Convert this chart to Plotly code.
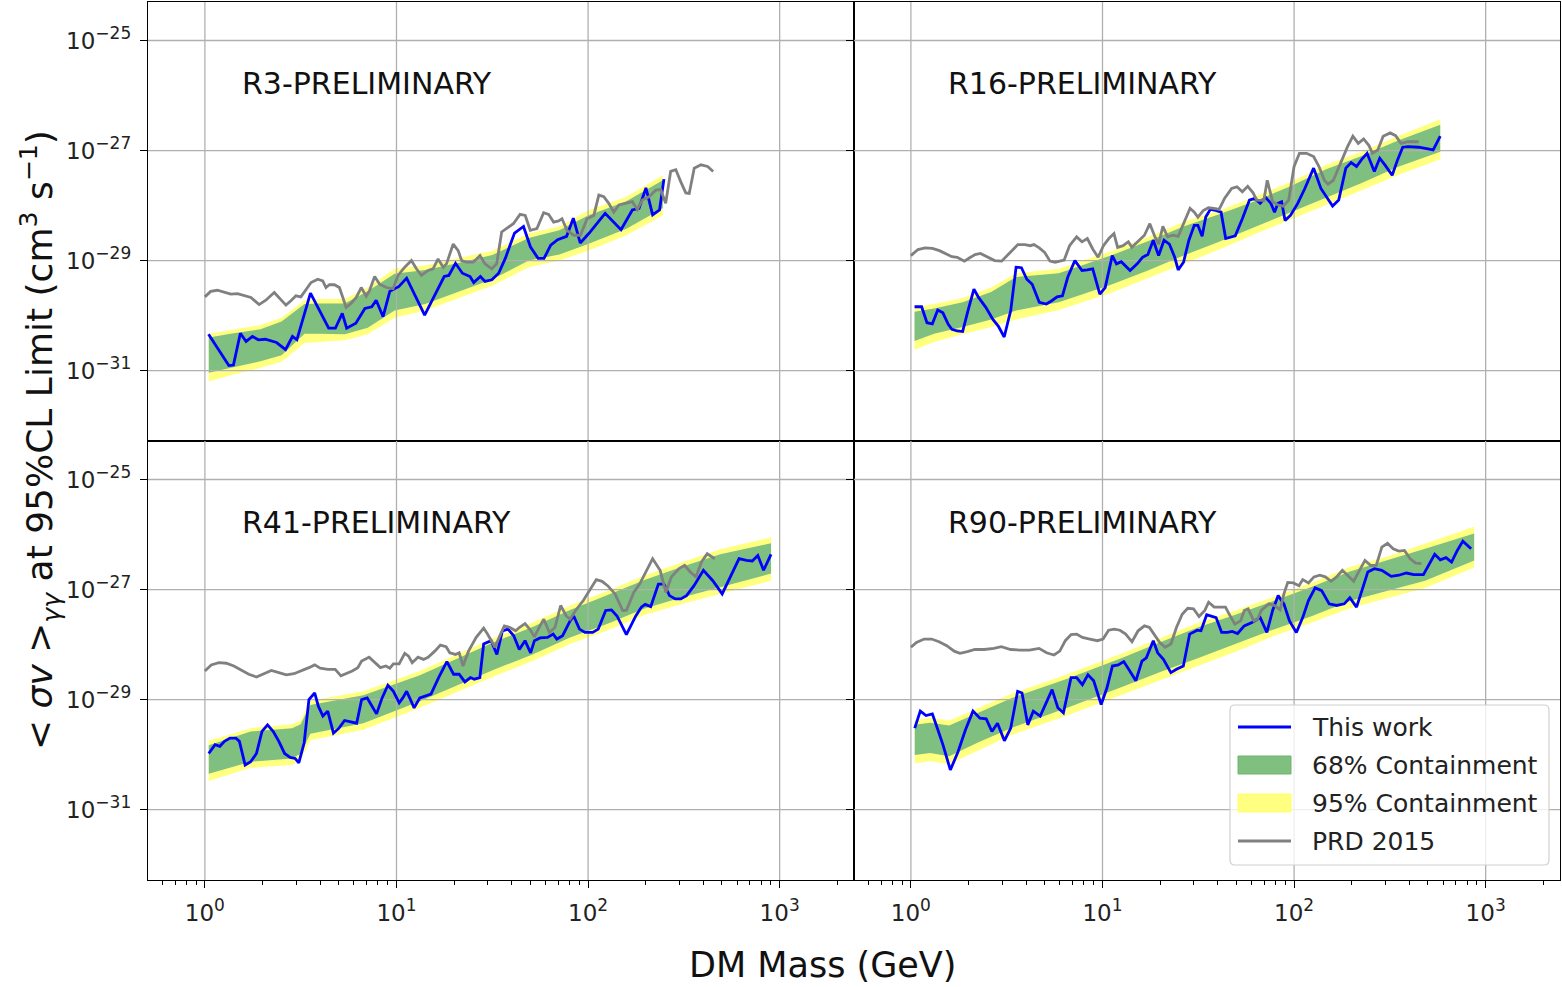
import numpy as np
import plotly.graph_objects as go
from plotly.subplots import make_subplots

# ---------------- data (log10 of mass in GeV, log10 of <sigma v> in cm^3 s^-1) ----------------
# R3
R3_BAND_LOGM = [0.02, 0.15, 0.29, 0.40, 0.52, 0.60, 0.73, 0.85, 0.99, 1.15, 1.34, 1.50, 1.69, 1.85, 2.00, 2.20, 2.39]
R3_U95 = [-30.33, -30.25, -30.17, -30.04, -29.72, -29.70, -29.70, -29.49, -29.15, -29.09, -28.94, -28.82, -28.51, -28.38, -28.09, -27.84, -27.45]
R3_U68 = [-30.40, -30.32, -30.25, -30.11, -29.79, -29.78, -29.78, -29.56, -29.24, -29.17, -29.03, -28.90, -28.59, -28.45, -28.18, -27.92, -27.54]
R3_L68 = [-31.04, -30.94, -30.83, -30.72, -30.33, -30.33, -30.34, -30.22, -29.91, -29.79, -29.55, -29.34, -29.00, -28.89, -28.70, -28.42, -28.05]
R3_L95 = [-31.20, -31.07, -30.95, -30.84, -30.50, -30.48, -30.45, -30.34, -30.04, -29.91, -29.67, -29.46, -29.12, -29.00, -28.82, -28.54, -28.18]
R3_WORK_LOGM = [0.019, 0.125, 0.149, 0.185, 0.215, 0.248, 0.279, 0.315, 0.374, 0.421, 0.457, 0.480, 0.551, 0.599, 0.646, 0.681, 0.717, 0.740, 0.788, 0.835, 0.871, 0.894, 0.930, 0.965, 1.013, 1.053, 1.107, 1.147, 1.249, 1.273, 1.308, 1.344, 1.384, 1.403, 1.438, 1.462, 1.498, 1.533, 1.568, 1.616, 1.663, 1.699, 1.739, 1.770, 1.805, 1.841, 1.888, 1.923, 1.959, 2.006, 2.089, 2.172, 2.231, 2.266, 2.302, 2.337, 2.373, 2.396]
R3_WORK_LOGSV = [-30.34, -30.91, -30.90, -30.32, -30.47, -30.38, -30.44, -30.43, -30.49, -30.62, -30.38, -30.44, -29.59, -29.90, -30.23, -30.23, -29.96, -30.23, -30.14, -29.87, -29.84, -29.72, -30.02, -29.56, -29.47, -29.32, -29.72, -29.99, -29.29, -29.27, -29.05, -29.23, -29.29, -29.40, -29.29, -29.38, -29.35, -29.23, -28.96, -28.50, -28.38, -28.75, -28.96, -28.96, -28.72, -28.62, -28.56, -28.23, -28.68, -28.50, -28.14, -28.44, -28.08, -28.05, -27.68, -28.17, -28.08, -27.52]
R3_PRD_LOGM = [0.000, 0.030, 0.065, 0.100, 0.135, 0.170, 0.205, 0.240, 0.283, 0.318, 0.362, 0.388, 0.423, 0.449, 0.475, 0.501, 0.528, 0.554, 0.589, 0.615, 0.632, 0.650, 0.676, 0.702, 0.720, 0.737, 0.763, 0.790, 0.816, 0.842, 0.859, 0.886, 0.912, 0.947, 0.982, 1.008, 1.043, 1.078, 1.104, 1.130, 1.165, 1.191, 1.217, 1.244, 1.261, 1.296, 1.322, 1.340, 1.366, 1.401, 1.436, 1.462, 1.497, 1.523, 1.549, 1.584, 1.610, 1.645, 1.672, 1.698, 1.733, 1.768, 1.794, 1.820, 1.846, 1.864, 1.890, 1.925, 1.960, 1.995, 2.030, 2.056, 2.082, 2.108, 2.134, 2.161, 2.196, 2.231, 2.257, 2.283, 2.318, 2.353, 2.379, 2.405, 2.431, 2.458, 2.484, 2.510, 2.528, 2.554, 2.589, 2.624, 2.653]
R3_PRD_LOGSV = [-29.66, -29.56, -29.54, -29.58, -29.61, -29.60, -29.64, -29.67, -29.80, -29.72, -29.58, -29.67, -29.81, -29.73, -29.64, -29.66, -29.52, -29.40, -29.34, -29.37, -29.49, -29.44, -29.44, -29.49, -29.67, -29.85, -29.78, -29.67, -29.49, -29.65, -29.55, -29.29, -29.43, -29.49, -29.51, -29.27, -29.12, -29.00, -29.15, -29.27, -29.18, -29.15, -28.97, -29.12, -29.06, -28.70, -28.82, -29.00, -29.03, -29.03, -28.91, -29.06, -29.15, -29.06, -28.48, -28.39, -28.33, -28.16, -28.18, -28.45, -28.42, -28.13, -28.16, -28.30, -28.28, -28.24, -28.45, -28.54, -28.54, -28.24, -28.18, -27.81, -27.84, -27.96, -28.12, -27.99, -27.96, -27.93, -28.07, -27.90, -27.84, -27.72, -27.71, -27.96, -27.38, -27.35, -27.57, -27.77, -27.78, -27.32, -27.26, -27.29, -27.38]

# R16
R16_BAND_LOGM = [0.019, 0.121, 0.270, 0.419, 0.549, 0.772, 1.051, 1.237, 1.423, 1.609, 1.795, 1.981, 2.167, 2.353, 2.540, 2.763]
R16_U95 = [-29.85, -29.79, -29.68, -29.49, -29.23, -29.15, -28.82, -28.57, -28.30, -28.09, -27.84, -27.57, -27.26, -27.02, -26.74, -26.43]
R16_U68 = [-29.93, -29.87, -29.76, -29.57, -29.30, -29.23, -28.90, -28.65, -28.38, -28.16, -27.92, -27.65, -27.34, -27.10, -26.82, -26.53]
R16_L68 = [-30.46, -30.33, -30.21, -30.07, -29.91, -29.76, -29.43, -29.18, -28.91, -28.66, -28.39, -28.12, -27.85, -27.59, -27.30, -27.02]
R16_L95 = [-30.62, -30.48, -30.34, -30.21, -30.07, -29.90, -29.58, -29.32, -29.05, -28.80, -28.52, -28.26, -27.99, -27.72, -27.45, -27.16]
R16_WORK_LOGM = [0.019, 0.056, 0.084, 0.112, 0.140, 0.167, 0.195, 0.214, 0.242, 0.270, 0.298, 0.329, 0.353, 0.391, 0.428, 0.456, 0.487, 0.521, 0.549, 0.577, 0.605, 0.633, 0.670, 0.707, 0.735, 0.763, 0.791, 0.819, 0.856, 0.893, 0.921, 0.949, 0.986, 1.014, 1.051, 1.073, 1.098, 1.116, 1.144, 1.181, 1.209, 1.237, 1.265, 1.293, 1.321, 1.349, 1.377, 1.395, 1.423, 1.451, 1.479, 1.498, 1.520, 1.539, 1.563, 1.591, 1.619, 1.643, 1.669, 1.693, 1.730, 1.767, 1.795, 1.823, 1.851, 1.879, 1.898, 1.916, 1.935, 1.953, 1.981, 2.019, 2.056, 2.102, 2.140, 2.167, 2.201, 2.233, 2.270, 2.298, 2.326, 2.353, 2.381, 2.419, 2.447, 2.474, 2.512, 2.540, 2.567, 2.595, 2.651, 2.726, 2.763]
R16_WORK_LOGSV = [-29.84, -29.84, -30.13, -30.15, -29.90, -29.95, -30.16, -30.25, -30.28, -30.29, -29.91, -29.52, -29.67, -29.85, -30.07, -30.19, -30.39, -29.91, -29.12, -29.13, -29.34, -29.43, -29.76, -29.79, -29.73, -29.66, -29.64, -29.30, -29.00, -29.18, -29.17, -29.15, -29.61, -29.49, -28.91, -29.06, -29.02, -29.09, -29.18, -29.06, -28.94, -28.89, -28.63, -28.91, -28.63, -28.70, -28.94, -29.17, -29.03, -28.63, -28.36, -28.36, -28.56, -28.21, -28.07, -28.09, -28.12, -28.60, -28.57, -28.55, -28.24, -27.90, -27.87, -27.96, -27.85, -27.96, -28.12, -27.96, -27.93, -28.27, -28.18, -27.96, -27.69, -27.32, -27.69, -27.84, -28.01, -27.90, -27.32, -27.22, -27.29, -27.16, -27.05, -27.38, -27.14, -27.26, -27.45, -27.17, -26.94, -26.93, -26.94, -26.99, -26.74]
R16_PRD_LOGM = [0.000, 0.037, 0.074, 0.112, 0.149, 0.186, 0.214, 0.242, 0.279, 0.307, 0.335, 0.363, 0.400, 0.437, 0.474, 0.502, 0.530, 0.558, 0.595, 0.623, 0.642, 0.670, 0.698, 0.726, 0.753, 0.781, 0.800, 0.828, 0.865, 0.893, 0.921, 0.949, 0.977, 1.005, 1.033, 1.060, 1.079, 1.107, 1.135, 1.153, 1.181, 1.219, 1.247, 1.274, 1.293, 1.315, 1.340, 1.367, 1.395, 1.423, 1.457, 1.479, 1.498, 1.526, 1.553, 1.581, 1.609, 1.637, 1.674, 1.702, 1.730, 1.758, 1.786, 1.805, 1.823, 1.842, 1.860, 1.888, 1.916, 1.944, 1.972, 2.000, 2.028, 2.065, 2.102, 2.130, 2.158, 2.177, 2.205, 2.242, 2.279, 2.307, 2.335, 2.363, 2.391, 2.409, 2.437, 2.465, 2.502, 2.530, 2.558, 2.595, 2.651]
R16_PRD_LOGSV = [-28.91, -28.80, -28.77, -28.78, -28.82, -28.88, -28.93, -28.94, -29.01, -28.95, -28.89, -28.87, -28.93, -29.00, -29.01, -28.91, -28.80, -28.71, -28.71, -28.73, -28.71, -28.77, -28.85, -29.01, -29.03, -29.01, -28.99, -28.73, -28.57, -28.66, -28.60, -28.79, -28.94, -28.73, -28.60, -28.51, -28.76, -28.73, -28.66, -28.76, -28.66, -28.54, -28.33, -28.57, -28.70, -28.38, -28.57, -28.54, -28.56, -28.33, -28.05, -28.12, -28.21, -28.09, -28.04, -28.05, -28.07, -27.87, -27.69, -27.66, -27.75, -27.65, -27.77, -27.90, -27.90, -27.91, -27.54, -27.93, -27.99, -28.01, -27.90, -27.29, -27.05, -27.05, -27.11, -27.29, -27.54, -27.61, -27.54, -27.23, -26.93, -26.74, -26.87, -26.79, -26.91, -27.05, -26.99, -26.74, -26.68, -26.73, -26.87, -26.84, -26.84]

# R41
R41_BAND_LOGM = [0.02, 0.239, 0.455, 0.50, 0.55, 0.827, 1.122, 1.318, 1.514, 1.710, 1.906, 2.102, 2.298, 2.494, 2.690, 2.955]
R41_U95 = [-29.75, -29.52, -29.45, -29.38, -29.02, -28.85, -28.48, -28.18, -27.87, -27.60, -27.29, -27.02, -26.74, -26.50, -26.27, -26.05]
R41_U68 = [-29.83, -29.58, -29.52, -29.45, -29.10, -28.92, -28.56, -28.26, -27.95, -27.68, -27.37, -27.10, -26.82, -26.58, -26.36, -26.16]
R41_L68 = [-30.35, -30.13, -30.07, -29.98, -29.62, -29.43, -29.03, -28.74, -28.45, -28.18, -27.87, -27.62, -27.34, -27.14, -26.96, -26.71]
R41_L95 = [-30.48, -30.24, -30.19, -30.10, -29.74, -29.55, -29.15, -28.86, -28.57, -28.30, -27.99, -27.74, -27.46, -27.26, -27.08, -26.84]
R41_WORK_LOGM = [0.020, 0.053, 0.078, 0.102, 0.131, 0.161, 0.180, 0.210, 0.239, 0.269, 0.298, 0.327, 0.357, 0.386, 0.416, 0.445, 0.471, 0.490, 0.518, 0.543, 0.573, 0.592, 0.616, 0.641, 0.671, 0.700, 0.729, 0.759, 0.792, 0.818, 0.847, 0.867, 0.896, 0.925, 0.955, 0.984, 1.014, 1.033, 1.053, 1.073, 1.092, 1.122, 1.151, 1.180, 1.220, 1.263, 1.298, 1.327, 1.357, 1.386, 1.406, 1.435, 1.455, 1.494, 1.524, 1.553, 1.582, 1.612, 1.641, 1.671, 1.700, 1.720, 1.749, 1.788, 1.818, 1.837, 1.867, 1.906, 1.925, 1.955, 1.984, 2.024, 2.053, 2.092, 2.122, 2.151, 2.200, 2.249, 2.278, 2.298, 2.327, 2.367, 2.396, 2.425, 2.455, 2.484, 2.514, 2.553, 2.602, 2.651, 2.700, 2.739, 2.788, 2.827, 2.857, 2.886, 2.916, 2.955]
R41_WORK_LOGSV = [-29.98, -29.82, -29.85, -29.76, -29.70, -29.70, -29.76, -30.19, -30.13, -29.98, -29.58, -29.46, -29.58, -29.76, -29.98, -30.05, -30.07, -30.15, -29.79, -29.00, -28.88, -29.12, -29.30, -29.21, -29.61, -29.52, -29.38, -29.40, -29.43, -29.00, -28.97, -29.09, -29.26, -28.97, -28.74, -28.85, -29.06, -28.97, -28.85, -29.00, -29.15, -28.97, -28.94, -28.90, -28.60, -28.31, -28.54, -28.54, -28.68, -28.60, -28.63, -28.60, -27.99, -27.93, -28.18, -27.75, -27.72, -27.84, -28.09, -27.93, -28.15, -27.93, -27.88, -27.87, -27.81, -27.90, -27.84, -27.57, -27.48, -27.72, -27.78, -27.78, -27.72, -27.38, -27.37, -27.48, -27.82, -27.48, -27.32, -27.27, -27.31, -26.90, -26.90, -27.11, -27.17, -27.17, -27.11, -26.93, -26.65, -26.84, -27.08, -26.80, -26.44, -26.47, -26.48, -26.38, -26.65, -26.36]
R41_PRD_LOGM = [0.000, 0.033, 0.073, 0.112, 0.151, 0.190, 0.229, 0.269, 0.308, 0.347, 0.386, 0.425, 0.465, 0.504, 0.543, 0.573, 0.602, 0.641, 0.680, 0.710, 0.739, 0.769, 0.798, 0.818, 0.857, 0.886, 0.916, 0.945, 0.965, 0.984, 1.014, 1.043, 1.063, 1.082, 1.112, 1.141, 1.165, 1.200, 1.229, 1.259, 1.278, 1.308, 1.327, 1.347, 1.376, 1.416, 1.455, 1.475, 1.514, 1.543, 1.563, 1.592, 1.622, 1.641, 1.671, 1.700, 1.720, 1.749, 1.769, 1.798, 1.827, 1.857, 1.886, 1.906, 1.935, 1.975, 2.014, 2.043, 2.073, 2.102, 2.141, 2.180, 2.200, 2.239, 2.269, 2.308, 2.337, 2.376, 2.406, 2.435, 2.475, 2.504, 2.533, 2.563, 2.592, 2.622, 2.661]
R41_PRD_LOGSV = [-28.48, -28.37, -28.33, -28.34, -28.39, -28.47, -28.54, -28.59, -28.53, -28.47, -28.51, -28.55, -28.53, -28.48, -28.42, -28.37, -28.43, -28.45, -28.45, -28.57, -28.53, -28.48, -28.42, -28.30, -28.23, -28.33, -28.42, -28.39, -28.43, -28.35, -28.35, -28.16, -28.21, -28.33, -28.23, -28.27, -28.23, -28.12, -28.01, -28.04, -28.15, -28.18, -28.15, -28.39, -28.12, -27.87, -27.70, -27.81, -28.05, -27.81, -27.66, -27.69, -27.75, -27.69, -27.62, -27.74, -27.86, -27.66, -27.54, -27.78, -27.69, -27.29, -27.48, -27.54, -27.38, -27.20, -26.99, -26.82, -26.85, -26.93, -27.08, -27.38, -27.38, -27.05, -26.90, -26.65, -26.44, -26.65, -27.05, -26.77, -26.62, -26.56, -26.68, -26.77, -26.50, -26.35, -26.44]

# R90
R90_BAND_LOGM = [0.02, 0.10, 0.20, 0.35, 0.521, 0.816, 1.111, 1.308, 1.504, 1.701, 1.898, 2.094, 2.291, 2.488, 2.684, 2.940]
R90_U95 = [-29.37, -29.33, -29.38, -29.15, -28.90, -28.54, -28.15, -27.87, -27.60, -27.37, -27.13, -26.87, -26.59, -26.40, -26.16, -25.86]
R90_U68 = [-29.46, -29.42, -29.47, -29.24, -28.98, -28.62, -28.23, -27.95, -27.68, -27.45, -27.20, -26.95, -26.67, -26.47, -26.26, -25.98]
R90_L68 = [-30.01, -29.97, -30.03, -29.78, -29.52, -29.15, -28.76, -28.49, -28.24, -27.98, -27.72, -27.48, -27.21, -27.02, -26.84, -26.47]
R90_L95 = [-30.16, -30.12, -30.17, -29.92, -29.65, -29.29, -28.90, -28.63, -28.37, -28.12, -27.84, -27.60, -27.34, -27.15, -26.97, -26.60]
R90_WORK_LOGM = [0.020, 0.049, 0.079, 0.112, 0.138, 0.167, 0.206, 0.246, 0.285, 0.324, 0.360, 0.393, 0.423, 0.452, 0.488, 0.521, 0.557, 0.580, 0.610, 0.639, 0.675, 0.708, 0.737, 0.767, 0.796, 0.836, 0.865, 0.895, 0.924, 0.954, 0.993, 1.023, 1.052, 1.082, 1.111, 1.141, 1.174, 1.206, 1.229, 1.265, 1.288, 1.318, 1.357, 1.386, 1.422, 1.455, 1.495, 1.514, 1.544, 1.563, 1.593, 1.622, 1.652, 1.677, 1.705, 1.740, 1.780, 1.823, 1.858, 1.888, 1.917, 1.947, 1.976, 2.012, 2.045, 2.075, 2.110, 2.144, 2.183, 2.222, 2.262, 2.291, 2.326, 2.354, 2.385, 2.419, 2.458, 2.507, 2.547, 2.586, 2.625, 2.675, 2.704, 2.734, 2.763, 2.793, 2.822, 2.852, 2.881, 2.924]
R90_WORK_LOGSV = [-29.52, -29.21, -29.29, -29.26, -29.52, -29.82, -30.28, -29.95, -29.55, -29.21, -29.34, -29.35, -29.58, -29.43, -29.75, -29.52, -28.85, -28.88, -29.46, -29.21, -29.30, -29.03, -28.82, -29.15, -29.24, -28.60, -28.60, -28.73, -28.55, -28.66, -29.09, -28.79, -28.39, -28.37, -28.31, -28.47, -28.66, -28.30, -28.24, -27.93, -28.15, -28.27, -28.51, -28.45, -28.39, -27.81, -27.74, -27.75, -27.46, -27.48, -27.51, -27.78, -27.78, -27.76, -27.80, -27.66, -27.60, -27.51, -27.78, -27.38, -27.11, -27.26, -27.57, -27.78, -27.51, -27.20, -26.97, -27.02, -27.26, -27.29, -27.26, -27.15, -27.32, -27.02, -26.68, -26.62, -26.65, -26.76, -26.74, -26.70, -26.73, -26.73, -26.56, -26.36, -26.46, -26.42, -26.50, -26.29, -26.12, -26.26]
R90_PRD_LOGM = [0.000, 0.029, 0.069, 0.108, 0.147, 0.187, 0.226, 0.256, 0.295, 0.334, 0.383, 0.433, 0.472, 0.521, 0.570, 0.619, 0.669, 0.708, 0.747, 0.777, 0.806, 0.836, 0.865, 0.895, 0.934, 0.973, 1.003, 1.032, 1.062, 1.091, 1.121, 1.154, 1.186, 1.219, 1.245, 1.268, 1.298, 1.327, 1.357, 1.386, 1.416, 1.445, 1.475, 1.504, 1.534, 1.554, 1.583, 1.613, 1.642, 1.662, 1.691, 1.721, 1.740, 1.760, 1.790, 1.809, 1.829, 1.868, 1.898, 1.927, 1.947, 1.967, 1.996, 2.026, 2.045, 2.075, 2.104, 2.134, 2.163, 2.193, 2.222, 2.252, 2.281, 2.311, 2.340, 2.370, 2.399, 2.429, 2.458, 2.488, 2.517, 2.547, 2.576, 2.606, 2.635, 2.665]
R90_PRD_LOGSV = [-28.05, -27.96, -27.90, -27.90, -27.95, -28.02, -28.12, -28.16, -28.13, -28.09, -28.09, -28.07, -28.04, -28.09, -28.10, -28.10, -28.07, -28.15, -28.19, -28.12, -27.93, -27.82, -27.81, -27.87, -27.90, -27.93, -27.90, -27.74, -27.72, -27.74, -27.81, -27.95, -27.75, -27.66, -27.69, -27.80, -27.96, -28.05, -27.99, -27.69, -27.45, -27.34, -27.35, -27.49, -27.38, -27.23, -27.32, -27.32, -27.32, -27.45, -27.63, -27.57, -27.38, -27.35, -27.57, -27.54, -27.38, -27.26, -27.29, -27.37, -27.08, -26.87, -26.88, -26.93, -26.82, -26.88, -26.77, -26.74, -26.77, -26.85, -26.77, -26.65, -26.74, -26.85, -26.66, -26.47, -26.56, -26.56, -26.23, -26.16, -26.26, -26.30, -26.29, -26.44, -26.52, -26.53]

PANEL_LABELS = ["R3-PRELIMINARY", "R16-PRELIMINARY", "R41-PRELIMINARY", "R90-PRELIMINARY"]
SERIES_NAMES = ["This work", "68% Containment", "95% Containment", "PRD 2015"]
X_TICKS = [1, 10, 100, 1000]
X_TICKTEXT = ["10<sup><span style='font-size:17px'>0</span></sup>", "10<sup><span style='font-size:17px'>1</span></sup>",
              "10<sup><span style='font-size:17px'>2</span></sup>", "10<sup><span style='font-size:17px'>3</span></sup>"]
Y_TICKS = [1e-25, 1e-27, 1e-29, 1e-31]
Y_TICKTEXT = ["10<sup><span style='font-size:17px'>\u221225</span></sup>", "10<sup><span style='font-size:17px'>\u221227</span></sup>",
              "10<sup><span style='font-size:17px'>\u221229</span></sup>", "10<sup><span style='font-size:17px'>\u221231</span></sup>"]

# ---------------- style ----------------
FONT = "DejaVu Sans"
BLUE = "#0000ff"
GRAY = "#808080"
GREEN = "rgb(127,191,127)"
YELLOW = "rgb(255,255,128)"
GRID = "#b0b0b0"
XR = [-0.297, 3.388]
YR = [-32.28, -24.30]
LW = 2.8

panels = [
    (1, 1, R3_BAND_LOGM, R3_U95, R3_U68, R3_L68, R3_L95, R3_WORK_LOGM, R3_WORK_LOGSV, R3_PRD_LOGM, R3_PRD_LOGSV),
    (1, 2, R16_BAND_LOGM, R16_U95, R16_U68, R16_L68, R16_L95, R16_WORK_LOGM, R16_WORK_LOGSV, R16_PRD_LOGM, R16_PRD_LOGSV),
    (2, 1, R41_BAND_LOGM, R41_U95, R41_U68, R41_L68, R41_L95, R41_WORK_LOGM, R41_WORK_LOGSV, R41_PRD_LOGM, R41_PRD_LOGSV),
    (2, 2, R90_BAND_LOGM, R90_U95, R90_U68, R90_L68, R90_L95, R90_WORK_LOGM, R90_WORK_LOGSV, R90_PRD_LOGM, R90_PRD_LOGSV),
]

fig = make_subplots(rows=2, cols=2, horizontal_spacing=0, vertical_spacing=0)

def p10(a):
    return np.power(10.0, np.asarray(a, dtype=float))

# gridlines drawn as traces so they sit above the bands but below the lines (matplotlib look)
grid_x, grid_y = [], []
for xv in X_TICKS:
    grid_x += [xv, xv, None]
    grid_y += [10 ** YR[0], 10 ** YR[1], None]
for yv in Y_TICKS:
    grid_x += [10 ** XR[0], 10 ** XR[1], None]
    grid_y += [yv, yv, None]

for i, (r, c, bm, u95, u68, l68, l95, wm, wv, pm, pv) in enumerate(panels):
    bx = p10(bm)
    fig.add_trace(go.Scatter(x=bx, y=p10(u95), mode="lines", line=dict(width=0, color=YELLOW),
                             showlegend=False, hoverinfo="skip"), row=r, col=c)
    fig.add_trace(go.Scatter(x=bx, y=p10(l95), mode="lines", line=dict(width=0, color=YELLOW),
                             fill="tonexty", fillcolor=YELLOW, name=SERIES_NAMES[2], showlegend=False), row=r, col=c)
    fig.add_trace(go.Scatter(x=bx, y=p10(u68), mode="lines", line=dict(width=0, color=GREEN),
                             showlegend=False, hoverinfo="skip"), row=r, col=c)
    fig.add_trace(go.Scatter(x=bx, y=p10(l68), mode="lines", line=dict(width=0, color=GREEN),
                             fill="tonexty", fillcolor=GREEN, name=SERIES_NAMES[1], showlegend=False), row=r, col=c)
    fig.add_trace(go.Scatter(x=grid_x, y=grid_y, mode="lines", line=dict(width=1.3, color=GRID),
                             showlegend=False, hoverinfo="skip"), row=r, col=c)
    fig.add_trace(go.Scatter(x=p10(wm), y=p10(wv), mode="lines", line=dict(width=LW, color=BLUE),
                             name=SERIES_NAMES[0], showlegend=False), row=r, col=c)
    fig.add_trace(go.Scatter(x=p10(pm), y=p10(pv), mode="lines", line=dict(width=LW, color=GRAY),
                             name=SERIES_NAMES[3], showlegend=False), row=r, col=c)

for r in (1, 2):
    for c in (1, 2):
        bottom = (r == 2)
        left = (c == 1)
        fig.update_xaxes(type="log", range=XR, showgrid=False, zeroline=False,
                         showline=True, mirror=True, linecolor="black", linewidth=1.3,
                         tickvals=X_TICKS, ticktext=X_TICKTEXT,
                         showticklabels=bottom, ticks="outside" if bottom else "",
                         ticklen=7, tickwidth=1.2, tickcolor="black", ticklabelstandoff=5,
                         tickfont=dict(family=FONT, size=23, color="#222"),
                         minor=dict(ticks="outside" if bottom else "", ticklen=4, tickwidth=1,
                                    tickcolor="black", dtick="D1", showgrid=False),
                         row=r, col=c)
        fig.update_yaxes(type="log", range=YR, showgrid=False, zeroline=False,
                         showline=True, mirror=True, linecolor="black", linewidth=1.3,
                         tickvals=Y_TICKS, ticktext=Y_TICKTEXT,
                         showticklabels=left, ticks="outside",
                         ticklen=7, tickwidth=1.2, tickcolor="black", ticklabelstandoff=4,
                         tickfont=dict(family=FONT, size=23, color="#222"),
                         row=r, col=c)

# ---- helpers converting figure pixels to paper coords (layout decoration only) ----
L, R, T, B = 148, 2, 2, 107
PW, PH = 1562 - L - R, 987 - T - B
def px(xp):
    return (xp - L) / PW
def py(yp):
    return (987 - B - yp) / PH

annotations = []
shapes = []
xrefs = {(1, 1): "x", (1, 2): "x2", (2, 1): "x3", (2, 2): "x4"}
yrefs = {(1, 1): "y", (1, 2): "y2", (2, 1): "y3", (2, 2): "y4"}
for (r, c), lab in zip([(1, 1), (1, 2), (2, 1), (2, 2)], PANEL_LABELS):
    annotations.append(dict(text=lab, xref=xrefs[(r, c)] + " domain", yref=yrefs[(r, c)] + " domain",
                            x=0.131, y=0.815, xanchor="left", yanchor="middle", showarrow=False,
                            font=dict(family=FONT, size=30, color="#111")))
annotations.append(dict(text="DM Mass (GeV)", xref="paper", yref="paper", x=px(822), y=py(965),
                        xanchor="center", yanchor="middle", showarrow=False,
                        font=dict(family=FONT, size=35, color="#111")))
annotations.append(dict(text="&lt; <i>\u03c3v</i> &gt;<sub><i>\u03b3\u03b3</i></sub> at 95%CL Limit (cm<sup>3</sup> s<sup>\u22121</sup>)",
                        xref="paper", yref="paper", x=px(40), y=py(440), textangle=-90,
                        xanchor="center", yanchor="middle", showarrow=False,
                        font=dict(family=FONT, size=36, color="#111")))

# ---- legend (drawn as a matplotlib-style box) ----
bx0, bx1, by0, by1, rad = 1230, 1549, 705, 865, 5
def P(xp, yp):
    return f"{px(xp):.5f},{py(yp):.5f}"
path = (f"M {P(bx0 + rad, by0)} L {P(bx1 - rad, by0)} Q {P(bx1, by0)} {P(bx1, by0 + rad)} "
        f"L {P(bx1, by1 - rad)} Q {P(bx1, by1)} {P(bx1 - rad, by1)} "
        f"L {P(bx0 + rad, by1)} Q {P(bx0, by1)} {P(bx0, by1 - rad)} "
        f"L {P(bx0, by0 + rad)} Q {P(bx0, by0)} {P(bx0 + rad, by0)} Z")
shapes.append(dict(type="path", xref="paper", yref="paper", path=path,
                   fillcolor="rgba(255,255,255,0.8)", line=dict(color="#d0d0d0", width=1.2)))
entry_y = [727, 765, 803, 841]
sym_x0, sym_x1 = 1238, 1291
shapes.append(dict(type="line", xref="paper", yref="paper", x0=px(sym_x0), x1=px(sym_x1),
                   y0=py(entry_y[0]), y1=py(entry_y[0]), line=dict(color=BLUE, width=LW)))
shapes.append(dict(type="rect", xref="paper", yref="paper", x0=px(sym_x0), x1=px(sym_x1),
                   y0=py(entry_y[1] - 9), y1=py(entry_y[1] + 9), fillcolor=GREEN,
                   line=dict(color="rgb(110,180,110)", width=1)))
shapes.append(dict(type="rect", xref="paper", yref="paper", x0=px(sym_x0), x1=px(sym_x1),
                   y0=py(entry_y[2] - 9), y1=py(entry_y[2] + 9), fillcolor=YELLOW,
                   line=dict(color="rgb(255,255,110)", width=1)))
shapes.append(dict(type="line", xref="paper", yref="paper", x0=px(sym_x0), x1=px(sym_x1),
                   y0=py(entry_y[3]), y1=py(entry_y[3]), line=dict(color=GRAY, width=LW)))
for name, ey in zip(SERIES_NAMES, entry_y):
    annotations.append(dict(text=name, xref="paper", yref="paper", x=px(1310), y=py(ey),
                            xanchor="left", yanchor="middle", showarrow=False,
                            font=dict(family=FONT, size=25, color="#222")))

fig.update_layout(
    width=1562, height=987,
    margin=dict(l=L, r=R, t=T, b=B),
    paper_bgcolor="white", plot_bgcolor="white",
    font=dict(family=FONT, color="#111"),
    annotations=annotations,
    shapes=shapes,
    showlegend=False,
)

fig.write_html("out.html")
